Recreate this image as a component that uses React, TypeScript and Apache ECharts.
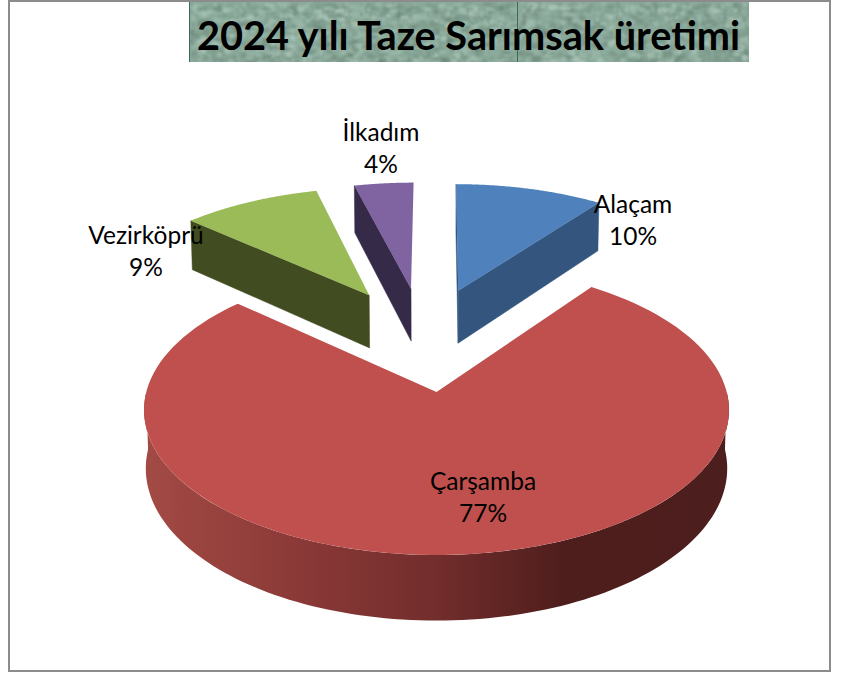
import React, { useEffect, useRef } from "react";
import * as echarts from "echarts";

const categories = ["Alaçam", "Çarşamba", "Vezirköprü", "İlkadım"];
const shares = [10, 76.7, 9.3, 4];
const topColors = ["#4f81bd", "#bf504d", "#9bbb59", "#8064a2"];
const wallColors = ["#34567e", "#7a2e2c", "#414d21", "#352a47"];
const titleText = "2024 yılı Taze Sarımsak üretimi";
const labelAnchors = [
  [633, 219],
  [483, 496],
  [146, 250],
  [381, 147],
];
// small sideways correction of the pulled-out slices, in unit radii
const explodeDrift = [0, 0, -0.005, -0.005];

// projection of the tilted pie (unit radius) onto the page
const ORIGIN_X = 436.5;
const ORIGIN_Y = 392;
const SCALE_X = 290.2;
const SCALE_Z = 142.7;
const PERSPECTIVE = 0.1243;
const DEPTH = 57.5;
const EXPLODE = 0.4;
const STEPS = 120;

const total = shares.reduce((a, b) => a + b, 0);
const largest = shares.indexOf(Math.max(...shares));

function angles(i: number) {
  const before = shares.slice(0, i).reduce((a, b) => a + b, 0);
  const a0 = (before / total) * Math.PI * 2;
  const a1 = ((before + shares[i]) / total) * Math.PI * 2;
  return [a0, a1];
}
function offset(i: number) {
  const [a0, a1] = angles(i);
  const m = (a0 + a1) / 2;
  const [b0, b1] = angles(largest);
  const n = (b0 + b1) / 2;
  return [
    EXPLODE * (Math.sin(m) - Math.sin(n)) + explodeDrift[i],
    EXPLODE * (Math.cos(m) - Math.cos(n)),
  ];
}
function project(x: number, z: number, lower: boolean) {
  const w = 1 / (1 + PERSPECTIVE * z);
  const bottom = lower ? DEPTH * w : 0;
  const shrink = lower ? 0.994 : 1;
  return [ORIGIN_X + SCALE_X * x * w * shrink, ORIGIN_Y - SCALE_Z * z * w + bottom];
}

function renderSlice(_: any, api: any) {
  const i = api.value(0) as number;
  const [a0, a1] = angles(i);
  const [ox, oz] = offset(i);
  const rim = (t: number, lower: boolean) => project(ox + Math.sin(t), oz + Math.cos(t), lower);
  const apex = (lower: boolean) => project(ox, oz, lower);
  const children: any[] = [];
  const wall = (points: number[][], fill: any, edge: boolean) =>
    children.push({
      type: "polygon",
      shape: { points },
      style: edge ? { fill, stroke: fill, lineWidth: 0.5 } : { fill },
    });

  // cut faces whose outward normal points to the viewer
  if (Math.cos(a0 - Math.PI / 2) < 1e-6) {
    wall([apex(false), rim(a0, false), rim(a0, true), apex(true)], wallColors[i], true);
  }
  if (Math.cos(a1 + Math.PI / 2) < -1e-6) {
    wall([apex(false), rim(a1, false), rim(a1, true), apex(true)], wallColors[i], true);
  }
  // outer wall on the near half
  const from = Math.max(a0, Math.PI / 2);
  const to = Math.min(a1, (Math.PI * 3) / 2);
  if (to > from) {
    const upper: number[][] = [];
    const lowerEdge: number[][] = [];
    for (let k = 0; k <= STEPS; k++) {
      const t = from + ((to - from) * k) / STEPS;
      upper.push(rim(t, false));
      lowerEdge.unshift(rim(t, true));
    }
    wall(
      upper.concat(lowerEdge),
      new echarts.graphic.LinearGradient(0, 0, 1, 0, [
        { offset: 0, color: "#a34a44" },
        { offset: 0.25, color: "#8c3a38" },
        { offset: 0.5, color: "#722d2c" },
        { offset: 0.72, color: "#4e1e1c" },
        { offset: 1, color: "#4c1e1d" },
      ]),
      false
    );
  }
  // top face
  const top: number[][] = [apex(false)];
  for (let k = 0; k <= STEPS; k++) top.push(rim(a0 + ((a1 - a0) * k) / STEPS, false));
  children.push({ type: "polygon", shape: { points: top }, style: { fill: topColors[i] } });
  return { type: "group", children };
}

function titleTexture() {
  const c = document.createElement("canvas");
  c.width = 560;
  c.height = 60;
  const g = c.getContext("2d")!;
  g.fillStyle = "#89a999";
  g.fillRect(0, 0, 560, 60);
  let s = 12345;
  const next = () => {
    s = (s * 1103515245 + 12345) & 0x7fffffff;
    return s / 0x7fffffff;
  };
  g.filter = "blur(1.2px)";
  for (let n = 0; n < 2600; n++) {
    const x = next() * 560;
    const y = next() * 60;
    const light = next() > 0.5;
    g.fillStyle = light ? "rgba(190,215,203,0.28)" : "rgba(100,125,112,0.25)";
    g.fillRect(x, y, 2 + next() * 7, 1 + next() * 5);
  }
  return c.toDataURL("image/png");
}

export default function App() {
  const ref = useRef<HTMLDivElement>(null);
  useEffect(() => {
    document.body.style.margin = "0";
    const chart = echarts.init(ref.current!, undefined, { renderer: "svg" });
    chart.setOption({
      animation: false,
      backgroundColor: "#ffffff",
      series: [
        {
          type: "custom",
          coordinateSystem: "none",
          silent: true,
          renderItem: renderSlice,
          data: shares.map((v, i) => [i, v]),
          encode: { value: 1 },
          z: 2,
        },
      ],
      graphic: {
        elements: [
          {
            type: "rect",
            z: 1,
            shape: { x: 9, y: 1, width: 821, height: 670 },
            style: { fill: "none", stroke: "#8c8c8c", lineWidth: 2 },
          },
          {
            type: "image",
            z: 3,
            style: { image: titleTexture(), x: 189, y: 2, width: 560, height: 60 },
          },
          { type: "line", z: 4, shape: { x1: 189.5, y1: 2, x2: 189.5, y2: 62 }, style: { stroke: "#3f6a58", lineWidth: 1 } },
          { type: "line", z: 4, shape: { x1: 517.5, y1: 2, x2: 517.5, y2: 62 }, style: { stroke: "#3f6a58", lineWidth: 1 } },
          {
            type: "text",
            z: 5,
            style: {
              text: titleText,
              x: 468.5,
              y: 34,
              align: "center",
              verticalAlign: "middle",
              font: "bold 39.7px Lato, 'Open Sans', sans-serif",
              fill: "#000000",
            },
          },
          ...categories.map((name, i) => ({
            type: "text",
            z: 6,
            style: {
              text: `${name}\n${Math.round((shares[i] / total) * 100)}%`,
              x: labelAnchors[i][0],
              y: labelAnchors[i][1],
              align: "center",
              verticalAlign: "middle",
              lineHeight: 32,
              font: "24.5px Lato, 'Open Sans', sans-serif",
              fill: "#000000",
            },
          })),
        ],
      },
    });
    return () => chart.dispose();
  }, []);
  return <div ref={ref} style={{ width: 844, height: 673 }} />;
}
